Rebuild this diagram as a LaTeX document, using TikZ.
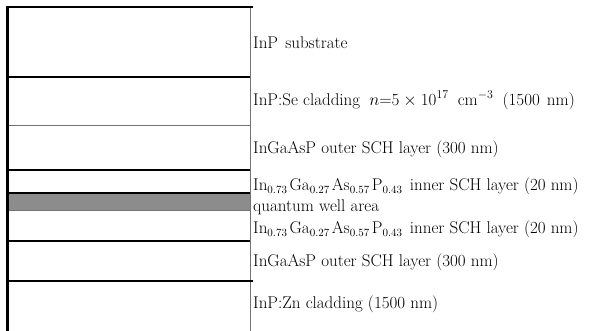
\documentclass[tikz,border=0pt]{standalone}
\usepackage{fontspec}
\setmainfont{Latin Modern Roman}
% small, low-set composition index
\newcommand{\lowidx}[1]{\raisebox{-3.5pt}{\fontsize{11}{12}\selectfont #1}\hspace{2.6pt}}
\begin{document}
\begin{tikzpicture}[x=1pt,y=-1pt,
  heavy/.style={line width=2pt,black},
  light/.style={line width=0.8pt,black!55},
  lbl/.style={anchor=west,inner sep=0pt,font=\fontsize{17}{19}\selectfont}]
\useasboundingbox (0,0) rectangle (589,331);
% quantum well band
\fill[black!45] (8,193) rectangle (250,210);
% outer frame
\draw[light] (250,7) -- (250,331);
\draw[light] (8,331) -- (250,331);
% layer boundaries
\draw[heavy] (8,7) -- (253,7);
\draw[heavy] (8,77) -- (250,77);
\draw[light] (8,125) -- (250,125);
\draw[heavy] (8,170) -- (250,170);
\draw[heavy] (8,193) -- (250,193);
\draw[light] (8,210) -- (250,210);
\draw[heavy] (8,241) -- (250,241);
\draw[heavy] (8,281) -- (253,281);
\draw[line width=3pt] (7.5,6) -- (7.5,331);
% labels
\node[lbl] (sub) at (253,43) {InP\hspace{2pt} substrate};
\node[lbl] (clt) at (253,100) {InP:Se cladding\hspace{4pt} $n$=5\hspace{4pt}$\times$\hspace{4pt}10\textsuperscript{17}\hspace{4pt} cm\textsuperscript{$-$3}\hspace{4pt} (1500\hspace{2pt} nm)};
\node[lbl] (sct) at (253,149) {InGaAsP outer SCH layer (300 nm)};
\node[lbl] (ict) at (253,186) {In\lowidx{0.73}Ga\lowidx{0.27}As\lowidx{0.57}P\lowidx{0.43} inner SCH layer (20 nm)};
\node[lbl] (qw) at (253,207) {quantum well area};
\node[lbl] (icb) at (253,229) {In\lowidx{0.73}Ga\lowidx{0.27}As\lowidx{0.57}P\lowidx{0.43} inner SCH layer (20 nm)};
\node[lbl] (scb) at (253,262) {InGaAsP outer SCH layer (300 nm)};
\node[lbl] (clb) at (253,304) {InP:Zn cladding (1500 nm)};
\end{tikzpicture}
\end{document}
